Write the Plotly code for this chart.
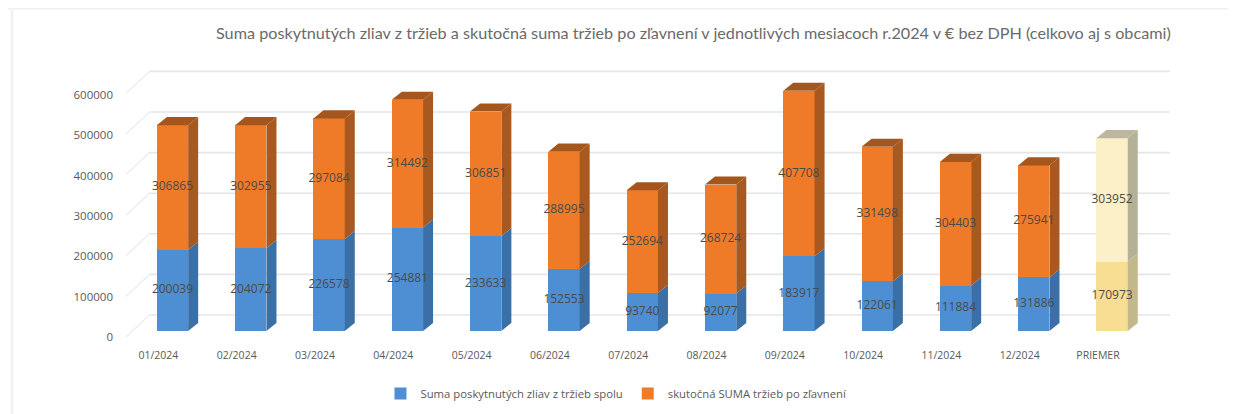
import plotly.graph_objects as go

categories = ["01/2024", "02/2024", "03/2024", "04/2024", "05/2024", "06/2024", "07/2024",
              "08/2024", "09/2024", "10/2024", "11/2024", "12/2024", "PRIEMER"]
zlavy = [200039, 204072, 226578, 254881, 233633, 152553, 93740, 92077, 183917, 122061, 111884, 131886, 170973]
trzby = [306865, 302955, 297084, 314492, 306851, 288995, 252694, 268724, 407708, 331498, 304403, 275941, 303952]
grid_values = [0, 100000, 200000, 300000, 400000, 500000, 600000]
name_zlavy = "Suma poskytnutých zliav z tržieb spolu"
name_trzby = "skutočná SUMA tržieb po zľavnení"
title_text = ("Suma poskytnutých zliav z tržieb a skutočná suma tržieb po zľavnení v jednotlivých "
              "mesiacoch r.2024 v € bez DPH (celkovo aj s obcami)")

n = len(categories)
x = list(range(n))
BAR_W = 0.40
DX, DY = 0.128, 20000       # bar depth in axis units
WX, WY = 0.294, 39400       # back wall offset in axis units

BLUE, ORANGE = "#4E8FD4", "#EF7B28"
BLUE_S, ORANGE_S = "#3A70A6", "#A8591F"
AVG_B, AVG_O = "#F8DE92", "#FCF0C8"
AVG_BS, AVG_OS, AVG_T = "#C2B98A", "#B5B197", "#BDB6A0"
ORANGE_T = "#A5561C"
TXT = "#595959"

fig = go.Figure()
fig.add_bar(x=x, y=zlavy, width=BAR_W, name=name_zlavy,
            marker=dict(color=[BLUE] * (n - 1) + [AVG_B], line_width=0))
fig.add_bar(x=x, y=trzby, width=BAR_W, name=name_trzby,
            marker=dict(color=[ORANGE] * (n - 1) + [AVG_O], line_width=0))


def poly(xs, ys, color):
    fig.add_scatter(x=xs, y=ys, mode="lines", fill="toself", fillcolor=color,
                    line=dict(width=0), hoverinfo="skip", showlegend=False)


for i in x:
    r = i + BAR_W / 2
    l = i - BAR_W / 2
    top1 = zlavy[i]
    top2 = zlavy[i] + trzby[i]
    last = i == n - 1
    poly([r, r + DX, r + DX, r, r], [0, DY, top1 + DY, top1, 0], AVG_BS if last else BLUE_S)
    poly([r, r + DX, r + DX, r, r], [top1, top1 + DY, top2 + DY, top2, top1], AVG_OS if last else ORANGE_S)
    poly([l, l + DX, r + DX, r, l], [top2, top2 + DY, top2 + DY, top2, top2], AVG_T if last else ORANGE_T)

fig.add_scatter(x=x, y=[v / 2 for v in zlavy], mode="text", text=[str(v) for v in zlavy],
                textfont=dict(family="Open Sans", size=12, color="#4A4A4A"),
                hoverinfo="skip", showlegend=False, cliponaxis=False)
fig.add_scatter(x=x, y=[a + b / 2 for a, b in zip(zlavy, trzby)], mode="text", text=[str(v) for v in trzby],
                textfont=dict(family="Open Sans", size=12, color="#4A4A4A"),
                hoverinfo="skip", showlegend=False, cliponaxis=False)
# carrier for the tick labels on the left
fig.add_scatter(x=[0, 0], y=[grid_values[0], grid_values[-1]], yaxis="y2", mode="markers",
                marker=dict(opacity=0), hoverinfo="skip", showlegend=False)

shapes = []
left = -WX
right = 12.74
for v in grid_values:
    shapes.append(dict(type="line", layer="below", xref="x", yref="y", x0=left, x1=right,
                       y0=v + WY, y1=v + WY, line=dict(color="#E6E6E6", width=1.6)))
    shapes.append(dict(type="line", layer="below", xref="x", yref="y", x0=left - 0.3, x1=left,
                       y0=v - 14800, y1=v + WY, line=dict(color="#EAEEF2", width=1.4)))
# faint frame of the source picture
shapes.append(dict(type="line", layer="below", xref="paper", yref="paper", x0=-0.1, x1=1.05,
                   y0=337 / 285, y1=337 / 285, line=dict(color="#F0F0F0", width=3)))
shapes.append(dict(type="line", layer="below", xref="paper", yref="paper", x0=-0.0948, x1=-0.0948,
                   y0=337 / 285, y1=-0.25, line=dict(color="#F3F3F3", width=3)))

fig.update_layout(
    width=1228, height=406, autosize=False, barmode="stack", bargap=0.6,
    margin=dict(l=106, r=46, t=52, b=69, autoexpand=False),
    paper_bgcolor="white", plot_bgcolor="white",
    font=dict(family="Open Sans", color=TXT, size=11),
    shapes=shapes,
    xaxis=dict(range=[-0.747, 12.995], tickmode="array", tickvals=[i - 0.18 for i in x], ticktext=categories,
               showgrid=False, zeroline=False, showline=False, ticks="", ticklabelstandoff=2,
               tickfont=dict(size=10.5, color=TXT)),
    yaxis=dict(range=[-34483, 667488], showticklabels=False, showgrid=False, zeroline=False, showline=False,
               ticks=""),
    yaxis2=dict(overlaying="y", side="left", range=[-19836, 686834], tickmode="array", tickvals=grid_values,
                ticktext=[str(v) for v in grid_values], showgrid=False, zeroline=False, showline=False,
                ticks="", tickfont=dict(size=11.5, color=TXT)),
    legend=dict(orientation="h", traceorder="normal", x=0.467, xanchor="center", y=-0.17, yanchor="middle",
                font=dict(size=11.3, color=TXT), bgcolor="rgba(0,0,0,0)"),
    annotations=[dict(text=title_text, xref="paper", yref="paper", x=(693 - 114) / 1076, xanchor="center",
                      y=(345 - 33) / 285, yanchor="middle", showarrow=False,
                      font=dict(family="Lato", size=16.2, color="#6A6A6A"))],
)
fig.write_html("out.html")
